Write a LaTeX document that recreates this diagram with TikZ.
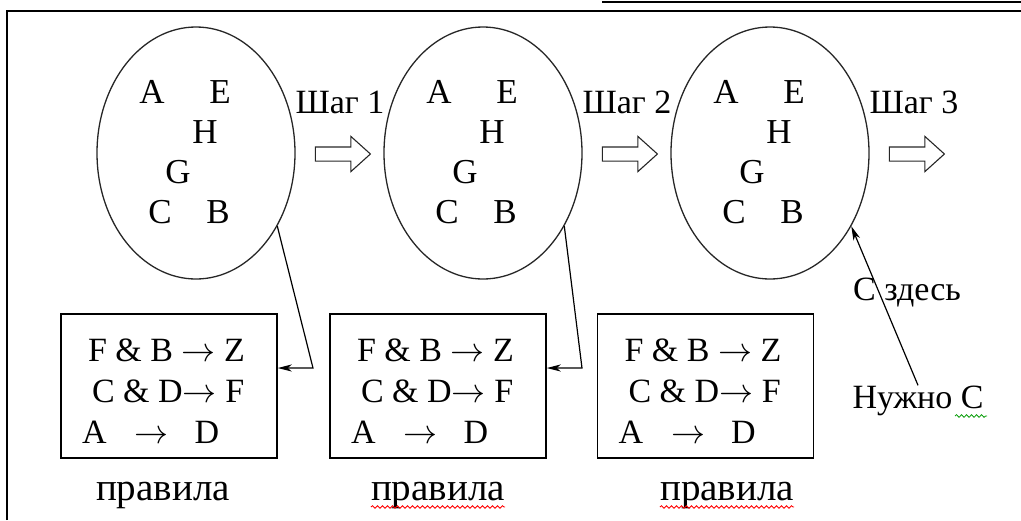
\RequirePackage{fix-cm}
\documentclass[tikz,border=0pt]{standalone}
\usepackage{fontspec}
\setmainfont{Liberation Serif}
\usetikzlibrary{shapes.geometric,shapes.arrows,arrows.meta,decorations.pathmorphing}

\tikzstyle{set}=[shape=ellipse,draw=black!85,line width=1.3pt,minimum width=198pt,minimum height=252pt,inner sep=0pt]
\tikzstyle{elem}=[anchor=base,inner sep=0pt,font=\fontsize{35}{38}\selectfont]
\tikzstyle{label}=[anchor=base,inner sep=0pt,font=\fontsize{34}{38}\selectfont]
\tikzstyle{go}=[shape=single arrow,draw=black!85,line width=1.1pt,minimum width=34pt,minimum height=55pt,
    single arrow head extend=10.5pt,single arrow tip angle=84,inner sep=0pt]
\tikzstyle{rules}=[draw,line width=1.5pt,minimum width=216pt,minimum height=144pt,align=left,
    inner sep=0pt,font=\fontsize{34}{41}\selectfont]
\tikzstyle{link}=[line width=1.2pt,-{Stealth[length=14pt,width=7pt,inset=4pt]}]
\tikzstyle{spell}=[line width=0.8pt,decorate,decoration={snake,amplitude=1.3pt,segment length=5pt}]

\begin{document}
\begin{tikzpicture}[x=1pt,y=-1pt]
    \useasboundingbox (0,0) rectangle (1021,520);
    % frame
    \draw[line width=2pt] (7,520) -- (7,11) -- (1021,11);
    \draw[line width=1.5pt] (602,2) -- (1021,2);
    % sets of facts
    \foreach \cx/\i in {196/1,483/2,770/3} {
        \node[set] (e\i) at (\cx,153) {};
        \node[elem] (a\i) at (\cx-44,103) {A};
        \node[elem] (f\i) at (\cx+24,103) {E};
        \node[elem] (h\i) at (\cx+9,143) {H};
        \node[elem] (g\i) at (\cx-18,183) {G};
        \node[elem] (c\i) at (\cx-36,223) {C};
        \node[elem] (b\i) at (\cx+22,223) {B};
        \node[label] (s\i) at (\cx+144,113) {Шаг \i};
        \node[go] (w\i) at (\cx+143,154) {\rule{0pt}{13pt}};
    }
    % rule bases
    \foreach \rx/\i/\px in {169/1/163,438/2/438,705.5/3/727} {
        \node[rules] (r\i) at (\rx,386)
            {\rule{0pt}{33pt}\hspace{6pt}F \& B $\rightarrow$ Z\kern11pt\\
             \hspace{10pt}C \& D$\rightarrow$ F\\
             A\hspace{28pt}$\rightarrow$\hspace{26pt}D};
        \node[anchor=base,inner sep=0pt,font=\fontsize{39}{42}\selectfont] (p\i) at (\px,500) {правила};
    }
    % links
    \coordinate (k1) at (313,368);
    \coordinate (k2) at (582,368);
    \draw[link] (e1.-42) -- (k1) -- (k1 -| r1.east);
    \draw[link] (e2.-42) -- (k2) -- (k2 -| r2.east);
    \node[label] (here) at (907,300) {С здесь};
    \node[label] (need) at (918,408) {Нужно С};
    \draw[link] (need.north) -- (e3.-42);
    % spelling marks
    \draw[spell,red] ([yshift=-7pt]p2.base west) -- ([yshift=-7pt]p2.base east);
    \draw[spell,red] ([yshift=-7pt]p3.base west) -- ([yshift=-7pt]p3.base east);
    \draw[spell,green!60!black] (955,416) -- (987,416);
\end{tikzpicture}
\end{document}
